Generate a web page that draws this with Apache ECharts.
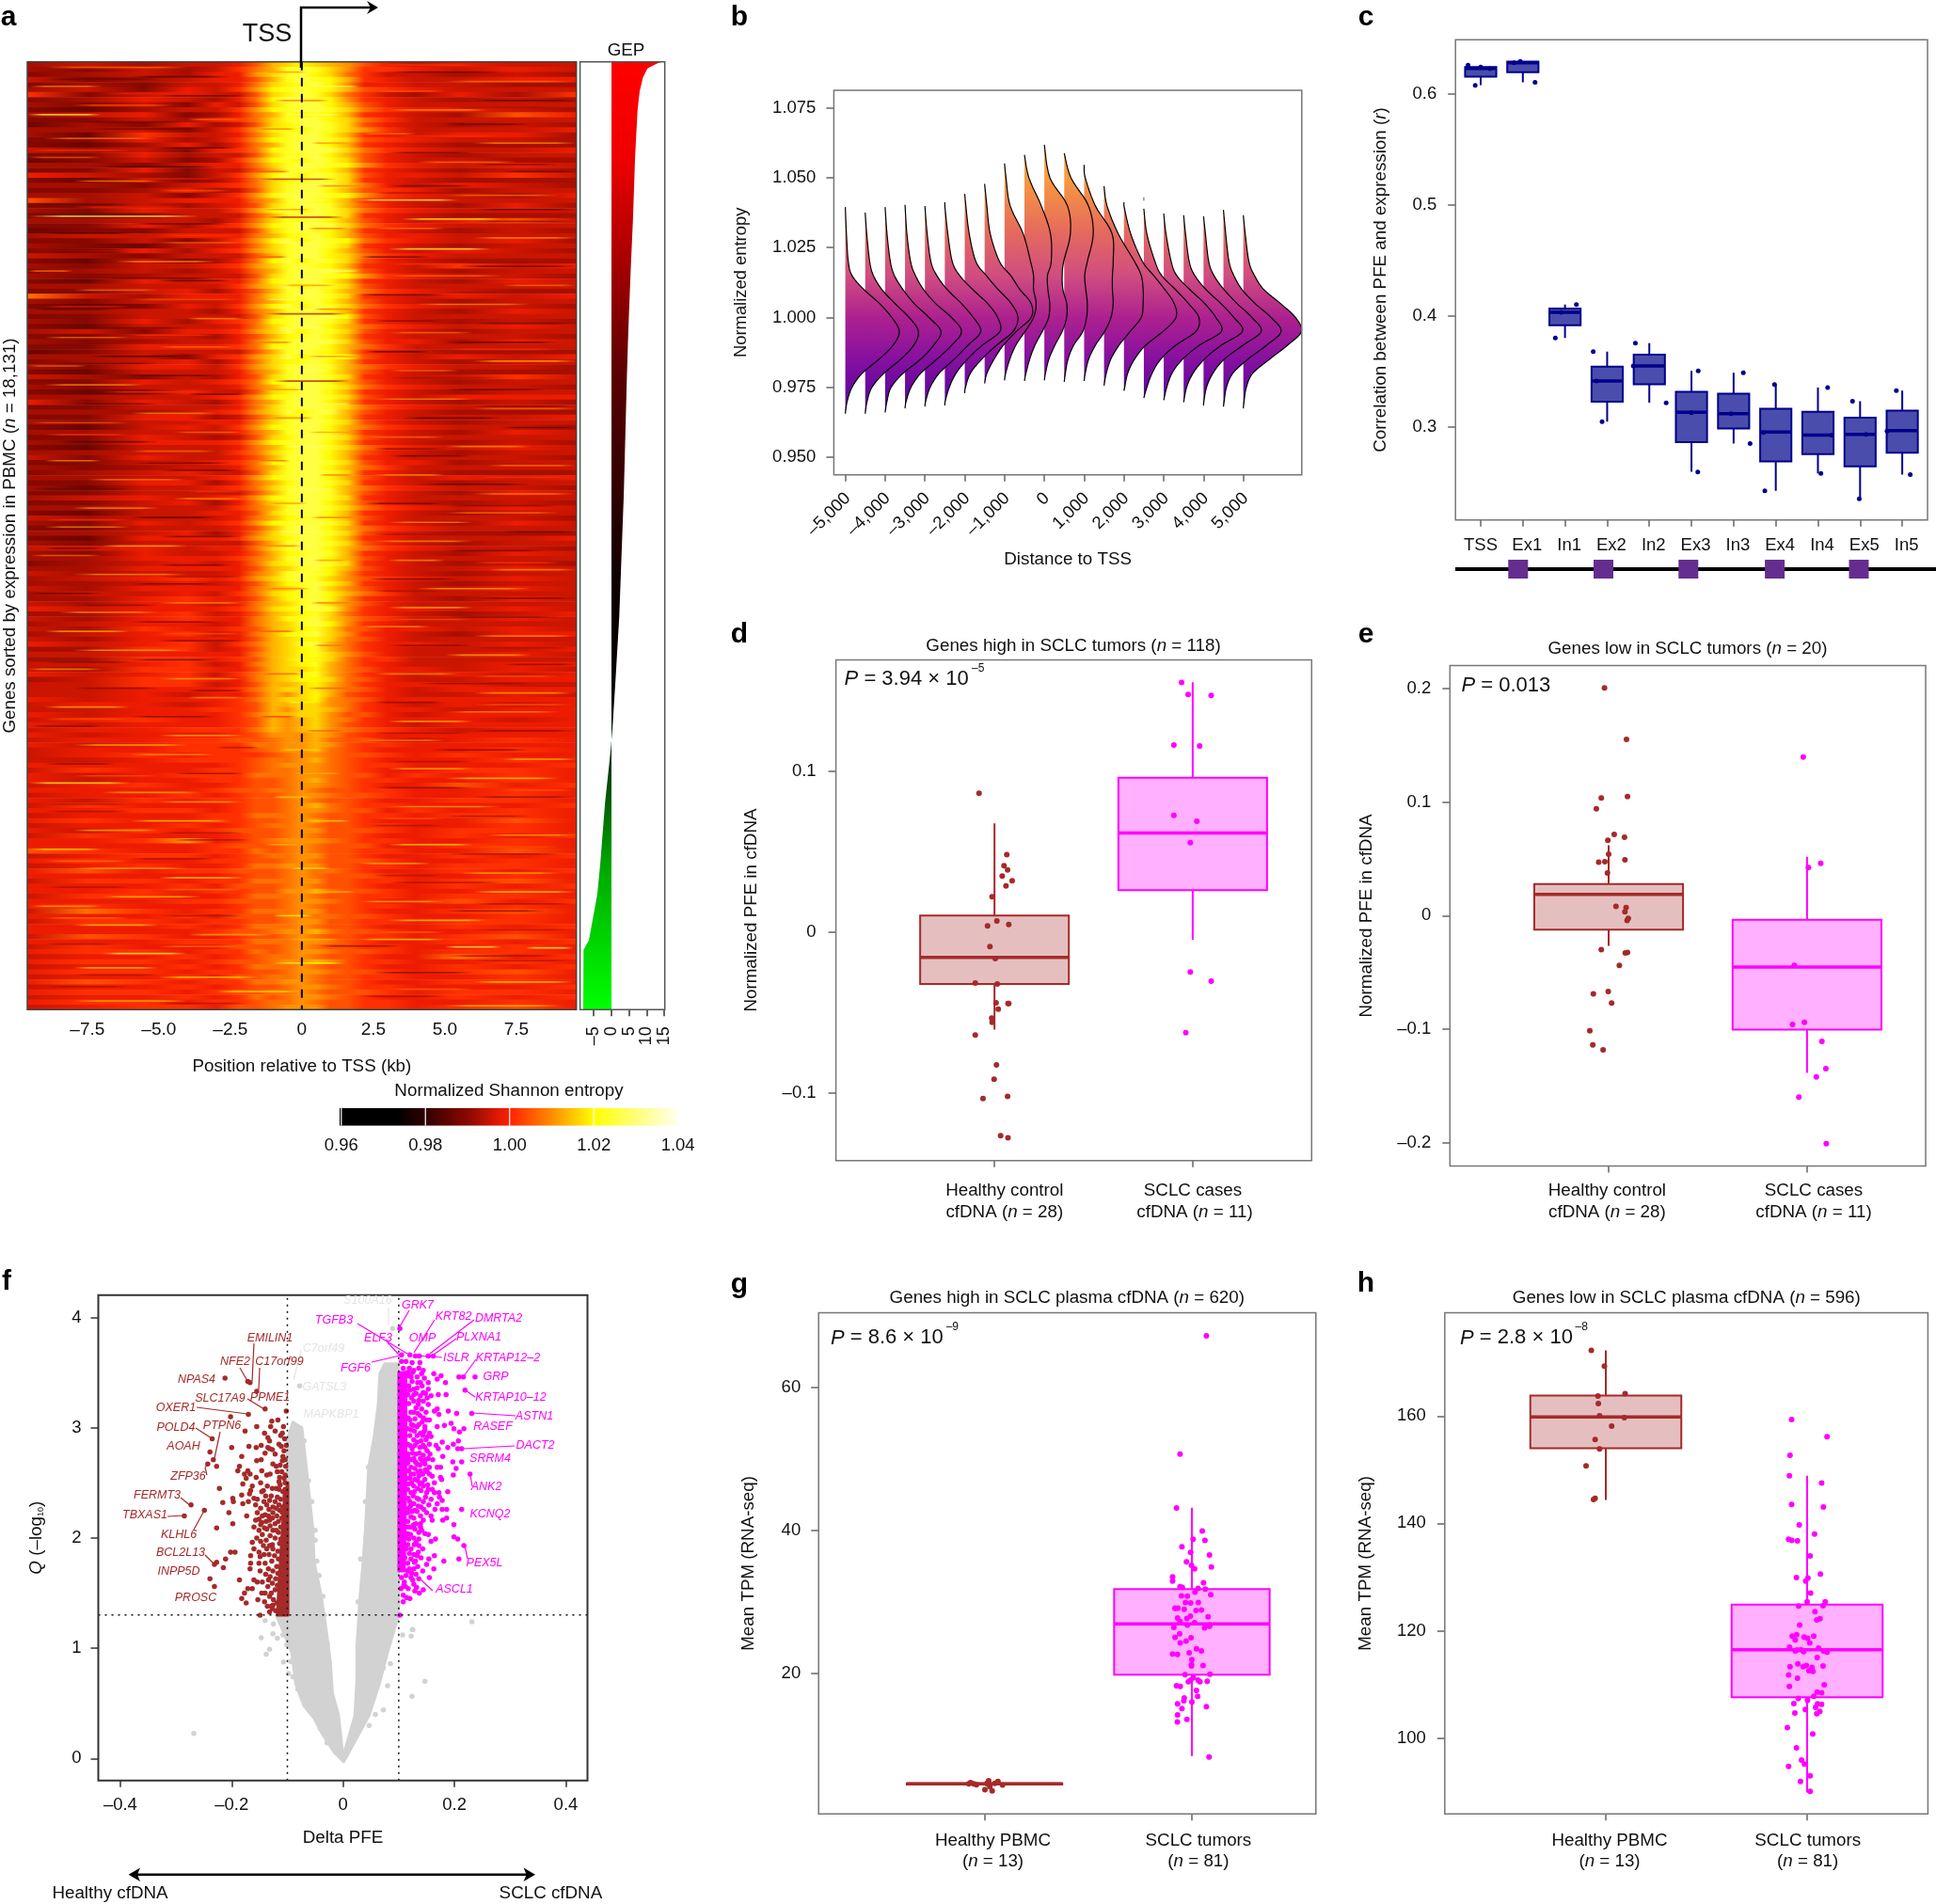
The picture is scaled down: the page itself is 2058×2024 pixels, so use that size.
<!DOCTYPE html>
<html>
<head>
<meta charset="utf-8">
<title>PFE figure</title>
<script src="https://cdn.jsdelivr.net/npm/echarts@6/dist/echarts.min.js"></script>
<style>
  html, body { margin: 0; padding: 0; background: #fff; }
  #main { width: 2058px; height: 2024px; }
</style>
</head>
<body>
<div id="main"></div>
<script>
// --- panel a: heat map, estimated by eye, one string per band of rows, one hex digit per column
const heatColumns = [-9.6, -7.5, -5.5, -4, -3, -2.2, -1.6, -1, -0.5, 0, 0.5, 1, 1.6, 2.2, 3, 4, 5.5, 7.5, 9.6];
const heatRows = [
  '3434457abcba9754544','3243468adedb9665454','2343559bdecb8644343','4234557adedca654455',
  '2324458bcdec9554433','3425469cdedca765444','6245447bcedb8643536','2354358ceedc9654343',
  '3242547bdeeca754444','2134469cdeedb865543','3452358adcdca654375','2243568bdeecb864444',
  '1325347bceedb754343','3342469cdcedb964445','3164458bdeeca654553','2253469cdeedb765443',
  '2135358adeeca654333','4342568cdeeeb865445','2253447bddeca754344','1242369cdcedb754433',
  '3324558bdeedc965454','2252447adedca654343','5432469cecedb755464','2142358bcdedb654333',
  '3324568bdeeeb854543','2235347bdeeca765344','3342469ceeedc965435','7345558adedca654444',
  '2243457bdeeda754353','3254469cecedb865444','2124447adeedb654333','3344358bddeca754574',
  '2253569cdeeeb865444','1224447bdedca654343','3445558acdeca755444','2242469cecedc865453',
  '3214458bdeedb654344','2353569bdeeca754543','4324447adeecb865444','2142358cecedb754333',
  '3244569bdedca654645','2343458adeeeb754344','3234447bdeedc965443','2154558cdeeca654354',
  '3344469becedb754444','2245357adeeca865433','8435558bdeedb654545','3244458acdeca754344',
  '2125469cecedb865443','3344358adeeca654354','2244447bdeeec754444','3253568cdeedb654343',
  '2144458bdeeca865454','3425569becedb754344','2244357acdeca654443','3234458bdeeeb755354',
  '2255568cdeeca864444','1244447adedca654333','3342569becedc754545','2345358bcdeca654344',
  '3255469bdeeda865443','2144458adeeca754333','4324357bdeedb654464','2254568cdeeca754344',
  '3244458adeedb865443','2125447bceeca654344','3344569cdeedb754555','5254358adeeca654343',
  '2244458bdeedb865444','3334569beceea754333','2255347acdeca654445','3244558bdeedb754344',
  '2145469cdeeca865443','3344458adeeda654354','2254347bceedb754444','3255569cdeeca654343',
  '2144458aceedb865454','3344468bdeeca754344','4254457adeeca654443','2244568cdeedb755344',
  '3234458adeeca864444','2345447bdeedb654333','3344569cdeeca754545','2255358aceedb654344',
  '3144568bdeeca865443','2244447adeeda754354','3454569cdeedb654444','2245358bceeca754343',
  '3344468adeedb865454','2144557bdeeca654344','4344458acdeca754443','3254569cdeedb654354',
  '2244457adeeca865444','3345358bdeedb754333','2155569bceeca654445','3244447adeedb754344',
  '4454558bdeeca865443','3254457acdeda654354','3355568adeeca754444','2345458bceedb654343',
  '3355557abdeca754454','4344458adedc9654344','3456569bdedb9765454','3345457acdeca654344',
  '4355558abdeb9754454','3445468bcdeca864444','3356557acdec9654354','4355458abdeb9754444',
  '5455568bcded9655454','3356457abcdb8654345','4356558acdeb9764454','3455458abdec9654444',
  '4365567abcdb8755454','3456458acdeb9654355','4355557abccb8754444','5456468abdea8655454',
  '3366457abcda8654445','4455558abcdb9754454','3366567abccb8664444','4456458abcda8654455',
  '4366557abbca8755454','5456468abcda8654545','3466558abccb8754455','4466457aabca8655544',
  '4455568abbca8754555','4454557a9bca7654454','5455568abbc98755555','4554567aabb98654545',
  '4455667a9bba8655455','5455568aabb97754555','4565567a9ab98655545','5455567a9ab97654555',
  '4556668a9ab98765455','5455567999a97655555','4556677899a87754565','5456668899a97665555',
  '4556667899a87655565','4565666789987765655','4456667889a87655565','5555567899987665556',
  '4655667889987655665','5456668889987756565','5455667789a87665565','4565567789987655756',
  '5555677889877665565','4556567789987765565','5465667789877655665','4655567789a87665556',
  '5566567789987756565','4555668889877665665','5655667789977655575','4556567889877665565',
  '5465677789977765665','4655567789877655656','5569567899987665565','5555677789877755665',
  '7655668789877665575','4566567889977655656','5655667789877765565','4565568899977665665',
  '5756677789887655656','5555567789877765565','4665668889977665675','5556577789877655656',
  '5565667799a87765565','4665568889877665665','5556677789987655756','5655567789877665565',
  '4865668889977655675','5556577789887765565','4665667789977665665','5556568889877655656',
  '5555677899a87765565','4765567789877665675','5556668889987655656','4655577789877665565',
  '5665668789987765665','4556567889877655856','5665677899a97665565','4556568889877655656',
  '5665667789987765675','4556577889877665565','5765668899877655665','4556567789987665556',
  '5665677889877765665','4556568789987655656','5665667889877665565','4566577899977665675'
];
// thin streaks over the rows: row (out of 200), from kb, to kb, level
const heatStreaks = [
  [1,-9,-4,8],[2,3,7,1],[3,-6,-2.5,0],[4,5,9.5,8],[5,-9.5,-7,9],[6,2.5,5,7],[7,-5,-2,1],[8,6,9.6,0],[9,-8,-4.5,7],[10,3,6.5,9],
  [11,-9.6,-7,14],[12,-4,-2,8],[13,5,8,1],[14,-7.5,-3.5,1],[15,2,4,8],[16,-9,-5,8],[17,6,9.6,9],[18,-5,-2.2,0],[19,3,6,1],[20,-9.6,-7,7],
  [21,4,7.5,8],[22,-7,-3,0],[23,7,9.6,1],[24.6,-1.5,1.2,3],[25,-8,-5,9],[26,3,6,1],[27,-5,-2.5,7],[28,5,9,8],[29,1.8,5.5,14],[30,-9.5,-6,1],
  [31,6,9.6,0],[32.4,-9.6,-3.6,14],[32.6,-1.2,1.5,3],[33,3.5,7,12],[34,-6,-2.5,1],[35,2.5,5,8],[36,-9,-6,0],[37,6,9.6,9],[38,-5,-2,8],[39.3,3,6.6,14],
  [40,-9,-6,1],[41,2,4.5,1],[42,-6.5,-3,9],[43,5.5,9.6,1],[44,-9.6,-8,8],[45,3,7,8],[46,-5,-2.5,0],[47,7,9.6,8],[48,-8,-5,8],[49,2,5,1],
  [50,-6,-2,7],[51,4,8,9],[52,-9.5,-6.5,0],[53,-1.3,1.6,3],[54,-4,-2,9],[55,6,9.5,1],[56,-8,-4,1],[57,3,6,8],[58,-9,-6,8],[59,5,9,0],
  [60,-5,-2.3,8],[61,2.2,4.5,0],[62,-7.5,-4,0],[63,6,9.6,10],[64,-9.6,-7.5,8],[65,3,5.5,8],[66,-6,-3,1],[67.2,-1,1.7,3],[68,-9,-5.5,9],[69,5,8.5,1],
  [70,-4,-2,1],[71,2.5,6,9],[72,-8,-5,1],[73,6,9.6,8],[74,-6,-3,9],[75,3.5,7,0],[76,-9.6,-6,7],[77,7,9.6,0],[78,-4.5,-2,8],[79,2,5,8],
  [80,-8.5,-5,0],[81,5,8,9],[82,-6,-3,8],[83,3,6,1],[84,-9,-7,9],[85,6.5,9.6,8],[86,-5,-2.2,1],[87,2.5,5,9],[88,-7.5,-4,8],[89,4,8,1],
  [90,-9.6,-6,1],[91,6,9.5,9],[92,-4.5,-2,9],[93,2.2,5,1],[94,-8,-5,9],[95,5,9,8],[96,-6,-3,0],[97,3,6,9],[98,-9,-6,9],[99,7,9.6,1],
  [100,-5,-2,1],[101,2.5,6,9],[102,-7,-4,10],[103,5,8.5,1],[104,-9.5,-7,8],[105,3,5,9],[106,-5,-2.5,1],[107,6.5,9.6,9],[108,-8,-4,9],[109,2.3,5.5,1],
  [110,-6,-3,1],[111,4,8,10],[112,-9.6,-7,1],[113,6,9.6,1],[114,-5,-2,9],[115,3,6,10],[116,-8.5,-5,9],[117,5,9,1],[118,-6,-3,2],[119,2,4.5,9],
  [120,-9,-6,10],[121,6,9.5,9],[122,-5,-2,2],[123,3,6,2],[124,-8,-4,10],[125,5,8,10],[126,-6,-3,1],[127,7,9.6,2],[128,-9.6,-7,9],[129,2.5,5.5,9],
  [130,-5,-2,10],[131,4,8,2],[132,-8,-5,2],[133,6,9.5,10],[134,-4,-2,9],[135,2.5,5,2],[136,-9,-6,10],[137,5,9,9],[138,-6,-3,2],[139,3,6,10],
  [140,-9.5,-7,2],[141,6,9.6,2],[142,-5,-2,10],[143,2,5,9],[144,-8,-4,11],[145,4.5,8,2],[146,-6,-3,9],[147,7,9.6,10],[148,-9,-6.5,2],[149,3,6,10],
  [150,-4.5,-2,2],[151,5,9,11],[152,-9.6,-6,13],[153,2.5,6,2],[154,-7,-3.5,10],[155,6,9.5,2],[156,-5,-2,10],[157,3,7,10],[158,-9,-6,3],[159,5,8,3],
  [160,-6,-2.5,11],[161,2.3,5,3],[162,-8,-5,10],[163,6.5,9.6,10],[164,-4.5,-1.8,3],[165,3,6,11],[166,-9.5,-7,11],[167,5,9,3],[168,-6,-3,3],[169,2,4.5,10],
  [170,-8,-4,10],[171,5.5,9,10],[172,-5,-2,11],[173,3,7,3],[174,-9,-6,3],[175,6,9.6,11],[176,-7,-3.5,11],[177,2,5,10],[178,-9.5,-7,10],[179,5,8.5,2],
  [180,-5,-2,3],[181,3,6.5,11],[182,-8,-5,11],[183,6,9.5,3],[184,-4,-1,10],[185,2,5,11],[186,-9,-6.5,3],[186.4,0.6,3.5,2],[186.6,5,7,14],[186.8,7.8,9.5,14],
  [188,-7,-4,14],[188.5,5,9,3],[190,-1,1.5,12],[191,-8,-5,11],[192,2.5,6,2],[193,-5,-1.5,11],[194,6,9.5,11],[195,-9,-6,3],[196,-3,0,12],[197,2,5,3],
  [198,-8,-4,10],[199,5,9,10],
  // across the glow
  [2,-1.4,0.2,9],[5,0.4,2,15],[8,-1,1,8],[11,-0.6,1.4,15],[14,-1.6,-0.2,8],[17,0.3,1.8,9],[20,-0.8,0.8,15],[23,-1.8,-0.4,7],[26,0.5,2.2,8],[29,-0.4,1,15],
  [31,-1.4,0.3,9],[35,0.2,1.6,8],[38,-1,0.6,15],[41,-1.7,-0.5,7],[44,0.6,2,15],[47,-0.7,1.2,9],[50,-1.3,0,15],[52,0.4,1.9,8],[56,-0.9,0.9,15],[59,-1.6,-0.3,8],
  [62,0.2,2,9],[65,-0.5,1.1,15],[69,-1.5,0.1,9],[72,0.5,1.7,15],[75,-1.1,0.4,8],[78,0.2,2.1,9],[81,-0.7,0.9,15],[84,-1.6,-0.4,7],[87,0.6,1.8,8],[90,-0.4,1.2,15],
  [93,-1.2,0.2,9],[96,0.3,2,8],[99,-0.9,0.7,15],[102,-1.5,0,8],[105,0.4,1.6,9],[108,-0.6,1,14],[111,-1.3,0.3,8],[114,0.3,1.8,8],[117,-0.8,1,13],[120,-1.6,-0.2,7],
  [123,0.4,1.6,8],[126,-0.6,0.9,13],[129,-1.4,0,7],[132,0.2,1.7,7],[135,-0.6,0.7,12],[138,-1.5,-0.2,6],[141,0.1,1.5,7],[145,-0.8,0.8,11],[150,-0.3,1.4,10],[155,-1,0.3,11],
  [160,0.1,1.7,11],[165,-1.3,0,10],[170,-0.4,1,12],[175,0.3,1.9,10],[180,-1,0.4,12],[185,-0.5,1.3,10],
  // softer lines in between
  [0.5,2.5,6,6],[3.5,-9,-5,1],[6.5,-7,-3,5],[9.5,5,9,3],[12.5,-8,-4,1],[15.5,3,7,6],[18.5,-9.5,-6,6],[21.5,6,9,2],[24.5,-6,-2.5,5],[27.5,2.5,6,3],
  [30.5,-8,-4,5],[33.5,6,9.5,2],[36.5,-5,-2,6],[39.5,-9,-6,1],[42.5,3,6,6],[45.5,-7,-3,1],[48.5,5,9,3],[51.5,-9,-6,5],[54.5,2.5,5,2],[57.5,-6,-3,6],
  [60.5,5,9,6],[63.5,-9,-5,1],[66.5,3,7,3],[69.5,-7,-3,6],[72.5,6,9.5,2],[75.5,-5,-2,5],[78.5,-9,-6,6],[81.5,2.5,5,2],[84.5,-6,-2.5,1],[87.5,6,9.5,6],
  [90.5,-4,-2,6],[93.5,5,9,2],[96.5,-9,-6,6],[99.5,2.5,6,3],[102.5,-9,-7,1],[105.5,6,9,6],[108.5,-5,-2,3],[111.5,2.5,5,3],[114.5,-8,-5,2],[117.5,3,6,7],
  [120.5,-5,-2,7],[123.5,6,9.5,3],[126.5,-9,-6,2],[129.5,6,9,7],[132.5,-4,-2,2],[135.5,6,9.5,7],[138.5,-9,-6,7],[141.5,2.5,6,3],[144.5,-3,-1.5,3],[147.5,3,6,3],
  [150.5,-8,-5,7],[153.5,7,9.5,7],[156.5,-9,-6,3],[159.5,2.5,5,7],[162.5,-5,-2,3],[165.5,6,9,7],[168.5,-9,-6,8],[171.5,2.5,5,3],[174.5,-5,-2,8],[177.5,6,9.5,3],
  [180.5,-9,-6,8],[183.5,2.5,5,8],[186.5,-5,-2,8],[189.5,6,9.5,3],[192.5,-8,-5,3],[195.5,3,6,8],[198.5,-5,-2,3]
];
const heatStreakRowBase = 200;
// --- panel a: colour scale
const entropyStops = [0.96, 0.973, 0.98, 0.99, 1.0, 1.01, 1.02, 1.04];
const entropyColors = ['#000000', '#000000', '#300000', '#8a0800', '#ff2000', '#ff8c00', '#ffff00', '#fffff0'];
const entropyTicks = [0.96, 0.98, 1.0, 1.02, 1.04];
// --- panel a: expression bar
const gepRank = [0, 0.002, 0.007, 0.017, 0.031, 0.051, 0.1, 0.166, 0.216, 0.282, 0.329, 0.456, 0.586, 0.649, 0.703, 0.729, 0.781, 0.847, 0.878, 0.927, 0.932, 0.937, 1];
const gepValue = [14.1, 12.8, 10.2, 8.9, 8, 7.4, 6.7, 6.1, 5.5, 4.8, 4.4, 3.5, 2.2, 1.2, 0.3, -0.3, -1.8, -3.2, -4, -6.4, -7.2, -7.9, -8];
const gepTicks = [-5, 0, 5, 10, 15];

// --- panel b: half violins
const violinX = [-5000, -4500, -4000, -3500, -3000, -2500, -2000, -1500, -1000, -500, 0, 500, 1000, 1500, 2000, 2500, 3000, 3500, 4000, 4500, 5000];
const violinTop = [1.0395, 1.0375, 1.0395, 1.0403, 1.0399, 1.0412, 1.0442, 1.0478, 1.0551, 1.0582, 1.0618, 1.0588, 1.0546, 1.047, 1.0412, 1.0389, 1.0372, 1.0366, 1.0362, 1.0385, 1.0366];
const violinBottom = [0.9656, 0.9656, 0.966, 0.9675, 0.9681, 0.9685, 0.9729, 0.9764, 0.9775, 0.9773, 0.9775, 0.977, 0.9773, 0.9756, 0.9738, 0.9712, 0.9704, 0.9697, 0.9685, 0.9681, 0.9675];
const violinLevels = [1.05, 1.04, 1.03, 1.02, 1.015, 1.01, 1.005, 1.0, 0.995, 0.99, 0.985, 0.98, 0.975, 0.97];
const violinWidths = [
  [0, 0, 3, 8, 18, 50, 92, 125, 145, 128, 90, 45, 18, 5],
  [0, 0, 4, 12, 22, 45, 80, 118, 143, 130, 95, 50, 18, 5],
  [0, 0, 5, 14, 25, 48, 78, 118, 150, 130, 95, 48, 16, 5],
  [0, 0, 5, 15, 28, 50, 82, 125, 152, 125, 85, 42, 16, 3],
  [0, 0, 6, 16, 32, 60, 98, 130, 150, 115, 78, 38, 14, 2],
  [0, 0, 8, 20, 40, 75, 115, 142, 148, 100, 60, 30, 12, 1],
  [0, 3, 12, 30, 58, 90, 125, 143, 130, 85, 45, 15, 2, 0],
  [0, 6, 15, 40, 70, 95, 125, 125, 85, 50, 25, 6, 0, 0],
  [4, 15, 50, 70, 78, 78, 85, 78, 55, 30, 14, 3, 0, 0],
  [12, 45, 70, 72, 62, 63, 68, 65, 48, 28, 14, 4, 0, 0],
  [15, 62, 70, 52, 48, 50, 60, 60, 48, 28, 12, 3, 0, 0],
  [18, 65, 78, 62, 55, 58, 62, 60, 50, 25, 10, 3, 0, 0],
  [3, 30, 75, 78, 76, 76, 78, 72, 55, 30, 12, 3, 0, 0],
  [0, 8, 38, 82, 100, 105, 105, 100, 70, 40, 18, 6, 0, 0],
  [0, 0, 18, 50, 80, 110, 135, 140, 105, 58, 28, 10, 2, 0],
  [0, 0, 8, 30, 48, 85, 120, 148, 140, 85, 45, 22, 8, 0],
  [0, 0, 6, 20, 35, 70, 110, 140, 155, 95, 50, 22, 8, 0],
  [0, 0, 5, 15, 30, 60, 100, 135, 158, 100, 55, 25, 8, 1],
  [0, 0, 5, 14, 28, 55, 90, 130, 155, 105, 55, 25, 8, 1],
  [0, 0, 6, 15, 28, 50, 85, 128, 155, 115, 65, 25, 8, 2],
  [0, 0, 5, 15, 30, 55, 100, 140, 156, 118, 70, 25, 8, 2]
];
const violinWidthUnit = 9.35;
const violinStub = [[2500, 1.0418], [2500, 1.043]];
const violinTicks = [-5000, -4000, -3000, -2000, -1000, 0, 1000, 2000, 3000, 4000, 5000];
const violinYTicks = [0.95, 0.975, 1.0, 1.025, 1.05, 1.075];
const violinFillValues = [1.065, 1.05, 1.03, 1.015, 1.0, 0.985, 0.965];
const violinFillColors = ['#fdb42f', '#f99a3e', '#e4695e', '#d04d80', '#ad218f', '#8610a0', '#4c02a1'];

// --- panel c
const regionNames = ['TSS', 'Ex1', 'In1', 'Ex2', 'In2', 'Ex3', 'In3', 'Ex4', 'In4', 'Ex5', 'In5'];
const regionLow = [0.6081, 0.6107, 0.3804, 0.3049, 0.3221, 0.2598, 0.2851, 0.2426, 0.2582, 0.2355, 0.2572];
const regionQ1 = [0.6156, 0.6198, 0.3918, 0.323, 0.3386, 0.2864, 0.2987, 0.2692, 0.2757, 0.2646, 0.277];
const regionMedian = [0.6231, 0.6283, 0.4035, 0.3415, 0.3551, 0.3133, 0.312, 0.2955, 0.2929, 0.2935, 0.2968];
const regionQ3 = [0.6244, 0.6292, 0.4067, 0.3545, 0.3652, 0.3318, 0.3302, 0.3165, 0.3139, 0.3084, 0.3149];
const regionHigh = [0.6244, 0.6292, 0.4103, 0.3681, 0.3756, 0.3506, 0.349, 0.3383, 0.3357, 0.3234, 0.3328];
const regionPoints = [
  [0.7, 0.626], [1, 0.6244], [1.22, 0.6228], [0.87, 0.6078], [1.79, 0.6283], [1.94, 0.6295], [2.29, 0.6107],
  [3.27, 0.4103], [2.91, 0.4035], [2.77, 0.3804], [3.67, 0.3681], [3.75, 0.3415], [3.88, 0.3049],
  [4.67, 0.3756], [4.62, 0.3551], [5.4, 0.3218], [6.16, 0.3506], [6, 0.313], [6.15, 0.2595],
  [7.23, 0.349], [6.94, 0.312], [7.39, 0.2851], [7.97, 0.3383], [7.71, 0.2952], [7.74, 0.2426],
  [9.23, 0.3357], [9.33, 0.2926], [9.07, 0.2582], [9.82, 0.3234], [10.14, 0.2935], [9.98, 0.2355],
  [10.86, 0.3328], [10.64, 0.2965], [11.19, 0.2572]
];

// --- panel d  (box = low, q1, median, q3, high; points = jitter, value)
const dHealthyBox = [-0.0604, -0.032, -0.0155, 0.0105, 0.0678];
const dCasesBox = [-0.0045, 0.0263, 0.0618, 0.0962, 0.1556];
const dHealthyPoints = [
  [-0.078, 0.0866], [0.062, 0.0484], [0.048, 0.0415], [0.066, 0.0389], [0.039, 0.0351], [0.089, 0.0322], [0.058, 0.0289],
  [-0.012, 0.0222], [0.012, 0.0072], [-0.035, 0.0041], [0.072, 0.005], [-0.023, -0.0088], [0.004, -0.0162], [-0.097, -0.0315],
  [0.014, -0.032], [0.008, -0.0437], [0.072, -0.0442], [0.019, -0.0477], [-0.014, -0.0532], [-0.012, -0.0558], [-0.097, -0.0637],
  [0.01, -0.0823], [-0.002, -0.0912], [-0.058, -0.1033], [0.066, -0.1019], [0.031, -0.1263], [0.068, -0.1277], [0.068, -0.0442]
];
const dCasesPoints = [
  [-0.056, 0.1554], [-0.023, 0.148], [0.093, 0.1473], [-0.095, 0.1165], [0.035, 0.116], [-0.095, 0.0728],
  [0.021, 0.0692], [-0.012, 0.0558], [-0.012, -0.0246], [0.093, -0.0303], [-0.035, -0.0623]
];

// --- panel e
const eHealthyBox = [-0.0267, -0.0125, 0.0186, 0.0277, 0.0618];
const eCasesBox = [-0.1385, -0.1003, -0.0453, -0.0037, 0.0517];
const eHealthyPoints = [
  [-0.021, 0.2003], [0.09, 0.1551], [-0.037, 0.1034], [0.095, 0.1047], [-0.062, 0.0939], [0.028, 0.0713], [0.08, 0.0689],
  [-0.004, 0.0662], [0, 0.0541], [-0.05, 0.047], [-0.019, 0.0473], [0.082, 0.049], [-0.006, 0.0375], [0.037, 0.0081],
  [0.088, 0.0071], [0.082, 0.0034], [0.099, -0.0024], [0.093, -0.0044], [-0.037, -0.0301], [0.084, -0.0328], [0.095, -0.0324],
  [0.054, -0.0439], [-0.002, -0.0669], [-0.077, -0.0689], [0.015, -0.077], [-0.095, -0.1014], [-0.08, -0.1139], [-0.028, -0.1182]
];
const eCasesPoints = [
  [-0.019, 0.1395], [0.069, 0.0459], [0.007, 0.0422], [-0.064, -0.0439], [-0.073, -0.0959], [-0.013, -0.0939],
  [0.075, -0.1108], [0.095, -0.1348], [0.047, -0.1419], [-0.041, -0.1598], [0.097, -0.2007]
];

// --- panel g
const gHealthyBox = [4.4, 4.45, 4.54, 4.62, 4.7];
const gTumorBox = [8.42, 19.83, 26.93, 31.8, 43.2];
const gHealthyPoints = [
  [-0.067, 4.71], [-0.052, 4.54], [-0.039, 4.43], [0.02, 4.99], [0.013, 4.54], [0.026, 4.16], [0.002, 3.71],
  [0.037, 3.55], [0.065, 4.88], [0.05, 4.6], [0.087, 4.38], [0.013, 4.65], [-0.076, 4.54]
];
const gTumorPoints = [
  [0.07, 67.26], [-0.057, 50.69], [-0.074, 43.16], [0.05, 39.94], [0.006, 38.78], [0.063, 38.61], [-0.048, 37.73], [-0.006, 36.95],
  [0.085, 36.57], [-0.026, 35.62], [-0.002, 35.12], [0.094, 34.9], [0.013, 34.63], [-0.093, 33.52], [-0.093, 32.91], [0.056, 32.69],
  [-0.057, 32.13], [-0.046, 32.02], [0.03, 31.91], [0.065, 31.8], [0.015, 31.36], [0.091, 31.02], [-0.05, 30.86], [-0.022, 30.8],
  [0.031, 29.92], [-0.031, 29.92], [-0.006, 29.86], [-0.081, 29.14], [-0.067, 29.14], [-0.037, 28.98], [0.02, 28.81], [0.046, 28.86],
  [0.078, 27.92], [-0.069, 27.76], [-0.007, 28.03], [-0.024, 27.7], [-0.057, 27.26], [0.013, 27.09], [-0.087, 26.43], [-0.022, 26.76],
  [0.061, 26.37], [0.085, 26.59], [-0.059, 25.54], [-0.081, 25.04], [-0.004, 24.99], [-0.028, 24.54], [-0.056, 24.27], [0.022, 23.43],
  [0.046, 23.16], [-0.093, 22.71], [-0.069, 22.66], [-0.013, 22.88], [0, 21.94], [-0.002, 21.22], [0.054, 21.11], [-0.033, 19.83],
  [0.087, 19.89], [0.007, 19.39], [0.03, 19.06], [0.039, 18.84], [-0.017, 18.84], [0.074, 18.89], [-0.074, 18.28], [-0.056, 18.17],
  [0.022, 17.62], [-0.037, 16.57], [0.028, 16.79], [-0.039, 16.18], [-0.069, 15.73], [0, 16.01], [0.07, 15.35], [-0.048, 15.07],
  [-0.069, 14.18], [-0.024, 13.57], [-0.07, 13.19], [0.083, 8.31], [-0.002, 21.05], [-0.006, 19.06], [-0.08, 29.09], [0.087, 26.76]
];

// --- panel h
const hHealthyBox = [144.35, 154.02, 159.85, 163.84, 172.25];
const hTumorBox = [89.82, 107.6, 116.46, 124.87, 148.86];
const hHealthyPoints = [
  [-0.072, 172.25], [-0.007, 169.3], [0.096, 164.2], [-0.039, 163.76], [-0.037, 162.36], [-0.031, 160.07], [0.092, 159.7],
  [0.029, 158.15], [-0.053, 155.65], [-0.031, 153.87], [-0.098, 150.7], [-0.053, 144.65], [-0.061, 144.43]
];
const hTumorPoints = [
  [-0.077, 159.34], [0.099, 156.16], [-0.085, 152.69], [-0.088, 148.86], [0.072, 147.53], [-0.077, 143.54], [0.081, 143.03], [-0.039, 139.7],
  [0.037, 138], [-0.092, 137.05], [-0.076, 136.83], [-0.048, 136.75], [0.015, 133.95], [0.066, 130.55], [-0.053, 129.89], [0.004, 129.82],
  [-0.007, 129.23], [0.017, 127.01], [0, 125.39], [0.09, 125.39], [0.079, 124.65], [-0.042, 124.58], [0.039, 123.54], [0.064, 122.21],
  [0.048, 121.99], [-0.037, 121.03], [-0.052, 119.26], [-0.074, 118.97], [-0.015, 118.82], [0.033, 118.97], [0.002, 118.6], [-0.059, 118.3],
  [0.013, 117.71], [-0.087, 116.9], [0.057, 116.75], [-0.059, 116.24], [-0.031, 116.46], [-0.05, 116.38], [-0.017, 116.09], [0.081, 116.24],
  [0.099, 116.01], [0.05, 114.98], [-0.046, 113.8], [0.079, 113.43], [-0.085, 113.28], [-0.004, 113.51], [-0.02, 113.28], [0.024, 113.14],
  [0.009, 112.55], [0.029, 112.4], [-0.092, 111.73], [-0.048, 111.14], [-0.088, 109.59], [0.085, 109.89], [0.05, 108.56], [0.072, 108.41],
  [0.033, 107.75], [-0.044, 107.38], [0.002, 107.01], [-0.066, 106.42], [0.052, 106.35], [0.072, 106.27], [-0.009, 105.31], [0.042, 105.68],
  [0.063, 104.94], [0.048, 104.5], [-0.061, 104.65], [-0.098, 101.92], [0.028, 100.74], [-0.053, 98.15], [-0.028, 95.87], [-0.013, 95.13],
  [-0.092, 94.69], [0.015, 92.92], [-0.033, 91.88], [0.015, 90.04]
];

// --- panel f
const volcanoGrayLeft = [
  [0.001, -0.029], [-0.0154, 0.051], [-0.0373, 0.222], [-0.052, 0.364], [-0.0704, 0.478], [-0.085, 0.677], [-0.0923, 0.961], [-0.1106, 1.189],
  [-0.12, 1.3], [-0.1, 1.35], [-0.1, 2.9], [-0.09, 3.05], [-0.074, 3], [-0.066, 2.64], [-0.06, 2.355], [-0.054, 2.07], [-0.052, 1.786],
  [-0.04, 1.5], [-0.03, 1.16], [-0.0227, 0.876], [-0.019, 0.591], [-0.008, 0.394], [-0.002, 0.108]
];
const volcanoGrayRight = [
  [0.001, -0.029], [0.0037, 0.079], [0.0213, 0.392], [0.0249, 0.736], [0.0249, 1.018], [0.0285, 1.302], [0.03, 1.445], [0.036, 1.786], [0.04, 2.07],
  [0.043, 2.355], [0.046, 2.64], [0.056, 2.925], [0.063, 3.2], [0.066, 3.49], [0.075, 3.58], [0.1, 3.58], [0.1, 1.35],
  [0.0981, 1.274], [0.0799, 0.961], [0.0652, 0.677], [0.0468, 0.392], [0.0285, 0.222], [0.01, 0.05]
];
const volcanoGrayDots = [
  [-0.268, 0.227], [0.147, 0.7], [0.1238, 0.563], [0.2314, 1.24], [0.1253, 1.169], [0.1223, 1.11], [0.0725, 0.44], [0.0468, 0.298],
  [-0.132, 0.99], [-0.147, 1.095], [-0.138, 0.945], [-0.118, 1.09], [-0.107, 0.875], [-0.074, 0.59], [-0.075, 2.78], [-0.081, 2.75],
  [-0.0895, 2.98], [-0.075, 2.53], [-0.07, 2.64], [-0.056, 2.33], [-0.05, 2.07], [-0.06, 2.16], [-0.036, 1.47], [-0.047, 1.79],
  [0.071, 3.49], [0.077, 3.18], [0.0625, 3.09], [0.0456, 2.64], [0.04, 2.33], [0.0315, 1.81], [0.027, 1.42], [0.1244, 1.17],
  [-0.14, 1.25], [-0.125, 1.22], [-0.115, 1.28], [0.089, 3.9], [-0.078, 3.38], [-0.098, 0.77], [0.085, 0.86], [0.107, 1.12],
  [-0.052, 0.42], [-0.061, 0.46], [-0.068, 0.55], [-0.081, 0.63], [-0.09, 0.74], [-0.094, 0.88], [-0.101, 1.03], [-0.108, 1.12], [-0.126, 1.13], [-0.112, 1.24],
  [-0.041, 0.27], [-0.029, 0.14], [-0.062, 2.52], [-0.07, 2.88], [-0.05, 1.98], [-0.043, 1.66], [-0.034, 1.3], [-0.028, 1.04],
  [0.017, 0.2], [0.031, 0.31], [0.042, 0.46], [0.053, 0.57], [0.06, 0.72], [0.072, 0.82], [0.084, 1.07], [0.091, 1.2], [0.058, 0.4], [0.08, 0.66]
];
const deltaCut = 0.1;
const qCut = 1.302;
const brownDense = [[-0.099, 1.3], [-0.118, 1.3], [-0.115, 1.6], [-0.11, 2], [-0.105, 2.4], [-0.099, 2.5]];
const brownPoints = [
  [-0.212, 3.45], [-0.171, 3.42], [-0.167, 3.41], [-0.155, 3.33], [-0.14, 3.17], [-0.17, 3.12], [-0.102, 3.15], [-0.202, 3.1], [-0.235, 2.9], [-0.239, 2.78],
  [-0.233, 2.71], [-0.243, 2.67], [-0.227, 2.65], [-0.128, 3.06], [-0.117, 3.07], [-0.13, 3.01], [-0.155, 3.01], [-0.107, 3.01], [-0.176, 2.97], [-0.141, 2.95],
  [-0.109, 2.95], [-0.112, 2.93], [-0.135, 2.91], [-0.132, 2.88], [-0.147, 2.84], [-0.169, 2.83], [-0.156, 2.82], [-0.2, 2.82], [-0.115, 2.85], [-0.102, 2.84],
  [-0.135, 2.82], [-0.14, 2.77], [-0.132, 2.81], [-0.182, 2.74], [-0.108, 2.74], [-0.147, 2.71], [-0.155, 2.7], [-0.109, 2.7], [-0.104, 2.71], [-0.186, 2.65],
  [-0.126, 2.67], [-0.12, 2.65], [-0.189, 2.61], [-0.171, 2.61], [-0.177, 2.58], [-0.167, 2.58], [-0.146, 2.61], [-0.137, 2.57], [-0.131, 2.58], [-0.174, 2.54],
  [-0.114, 2.55], [-0.106, 2.54], [-0.115, 2.51], [-0.104, 2.5], [-0.18, 2.49], [-0.163, 2.47], [-0.222, 2.45], [-0.166, 2.43], [-0.143, 2.43], [-0.12, 2.45],
  [-0.104, 2.44], [-0.198, 2.36], [-0.216, 2.32], [-0.197, 2.33], [-0.182, 2.39], [-0.168, 2.4], [-0.154, 2.35], [-0.139, 2.38], [-0.129, 2.38], [-0.118, 2.37],
  [-0.104, 2.38], [-0.18, 2.31], [-0.17, 2.33], [-0.157, 2.3], [-0.137, 2.3], [-0.126, 2.28], [-0.115, 2.3], [-0.273, 2.3], [-0.249, 2.25], [-0.285, 2.2],
  [-0.205, 2.23], [-0.173, 2.2], [-0.154, 2.23], [-0.14, 2.21], [-0.126, 2.23], [-0.109, 2.23], [-0.157, 2.16], [-0.146, 2.14], [-0.132, 2.16], [-0.198, 2.13],
  [-0.227, 2.09], [-0.16, 2.1], [-0.151, 2.07], [-0.137, 2.08], [-0.12, 2.07], [-0.163, 1.96], [-0.143, 1.93], [-0.132, 1.93], [-0.112, 1.99], [-0.104, 2.01],
  [-0.16, 1.9], [-0.151, 1.87], [-0.126, 1.9], [-0.202, 1.87], [-0.194, 1.87], [-0.211, 1.81], [-0.227, 1.78], [-0.231, 1.76], [-0.215, 1.73], [-0.166, 1.84],
  [-0.149, 1.83], [-0.166, 1.77], [-0.151, 1.77], [-0.14, 1.77], [-0.167, 1.72], [-0.149, 1.7], [-0.239, 1.63], [-0.186, 1.62], [-0.231, 1.56], [-0.16, 1.62],
  [-0.171, 1.54], [-0.163, 1.54], [-0.154, 1.6], [-0.177, 1.5], [-0.146, 1.5], [-0.14, 1.5], [-0.182, 1.45], [-0.153, 1.44], [-0.174, 1.41], [-0.132, 1.47],
  [-0.126, 1.39], [-0.149, 1.3], [-0.132, 1.33], [-0.115, 1.33],
  [-0.121, 1.34], [-0.127, 1.36], [-0.119, 1.41], [-0.125, 1.44], [-0.129, 1.5], [-0.122, 1.53], [-0.118, 1.57], [-0.127, 1.59], [-0.135, 1.56], [-0.121, 1.63],
  [-0.131, 1.65], [-0.117, 1.68], [-0.126, 1.7], [-0.134, 1.72], [-0.119, 1.74], [-0.128, 1.79], [-0.116, 1.81], [-0.123, 1.84], [-0.133, 1.85], [-0.117, 1.88],
  [-0.127, 1.94], [-0.114, 1.95], [-0.138, 1.98], [-0.122, 2], [-0.131, 2.02], [-0.145, 2.03], [-0.116, 2.05], [-0.126, 2.07], [-0.141, 2.09], [-0.112, 2.1],
  [-0.131, 2.11], [-0.122, 2.13], [-0.148, 2.12], [-0.116, 2.15], [-0.138, 2.15], [-0.127, 2.18], [-0.151, 2.17], [-0.11, 2.18], [-0.119, 2.2], [-0.134, 2.2],
  [-0.145, 2.2], [-0.114, 2.25], [-0.12, 2.27], [-0.133, 2.26], [-0.148, 2.27], [-0.108, 2.28], [-0.122, 2.33], [-0.132, 2.34], [-0.112, 2.35], [-0.142, 2.33],
  [-0.108, 2.42], [-0.115, 2.44], [-0.127, 2.45], [-0.136, 2.47], [-0.113, 2.48], [-0.104, 2.57], [-0.11, 2.6], [-0.118, 2.6], [-0.103, 2.65], [-0.113, 2.66],
  [-0.106, 2.79], [-0.122, 2.76], [-0.127, 2.8], [-0.111, 2.83], [-0.105, 2.9], [-0.122, 2.97], [-0.146, 2.42], [-0.16, 2.36], [-0.148, 2.5], [-0.156, 2.55],
  [-0.136, 1.38], [-0.141, 1.42], [-0.134, 1.62], [-0.139, 1.67], [-0.145, 1.6], [-0.129, 1.38], [-0.142, 1.85], [-0.137, 1.9], [-0.148, 1.97], [-0.155, 2]
];
const magentaDense = [[0.1, 1.7], [0.11, 1.7], [0.113, 2.6], [0.113, 3.5], [0.1, 3.5]];
const magentaPoints = [
  [0.102, 3.9], [0.105, 3.66], [0.12, 3.66], [0.13, 3.65], [0.137, 3.65], [0.153, 3.65], [0.162, 3.65], [0.163, 3.49], [0.176, 3.47], [0.169, 3.44],
  [0.184, 3.41], [0.208, 3.46], [0.216, 3.46], [0.237, 3.46], [0.219, 3.34], [0.185, 3.3], [0.171, 3.3], [0.153, 3.41], [0.189, 3.15], [0.204, 3.13],
  [0.231, 3.13], [0.194, 3.04], [0.199, 2.99], [0.209, 2.96], [0.217, 2.99], [0.182, 3.02], [0.169, 3.01], [0.207, 2.88], [0.198, 2.85], [0.206, 2.81],
  [0.213, 2.81], [0.178, 2.87], [0.171, 2.81], [0.188, 2.82], [0.179, 2.74], [0.197, 2.69], [0.213, 2.69], [0.203, 2.63], [0.198, 2.57], [0.228, 2.58],
  [0.175, 2.64], [0.169, 2.64], [0.188, 2.42], [0.172, 2.41], [0.178, 2.34], [0.213, 2.26], [0.186, 2.26], [0.178, 2.26], [0.165, 2.26], [0.16, 2.16],
  [0.186, 2.18], [0.179, 2.16], [0.199, 2.12], [0.199, 2.01], [0.206, 1.99], [0.217, 1.93], [0.166, 1.99], [0.158, 1.97], [0.164, 1.84], [0.154, 1.81],
  [0.181, 1.79], [0.208, 1.81], [0.15, 1.76], [0.163, 1.72], [0.155, 1.64], [0.136, 1.63], [0.144, 1.53], [0.137, 1.5], [0.108, 1.42], [0.12, 1.45],
  [0.104, 1.54], [0.102, 1.3], [0.133, 1.84], [0.122, 1.9], [0.136, 1.93], [0.147, 2.04], [0.153, 2.03], [0.139, 2.13], [0.144, 2.16], [0.158, 2.2],
  [0.164, 2.41], [0.169, 2.31], [0.173, 2.37], [0.153, 2.44], [0.144, 2.47], [0.164, 2.5], [0.147, 2.53], [0.155, 2.58], [0.175, 2.55], [0.177, 2.53],
  [0.153, 2.72], [0.161, 2.71], [0.139, 2.72], [0.133, 2.67], [0.147, 2.67], [0.155, 2.64], [0.127, 2.58], [0.139, 2.61], [0.167, 2.84], [0.155, 2.95],
  [0.158, 2.92], [0.169, 3.17], [0.172, 3.12], [0.164, 3.15], [0.153, 3.21], [0.144, 3.24], [0.158, 3.29], [0.144, 3.32], [0.136, 3.25], [0.127, 3.24],
  [0.127, 3.35], [0.139, 3.41], [0.133, 3.36], [0.153, 3.35], [0.144, 3.52], [0.136, 3.54], [0.127, 3.52], [0.119, 3.54], [0.108, 3.54], [0.11, 3.49],
  [0.122, 3.46], [0.133, 3.46], [0.141, 3.49], [0.144, 3.09], [0.133, 3.01], [0.139, 2.95], [0.147, 3.01], [0.155, 3.07], [0.133, 2.87], [0.144, 2.84],
  [0.122, 2.58], [0.127, 2.47], [0.136, 2.35], [0.144, 2.33], [0.133, 2.24], [0.15, 2.23], [0.127, 2.18], [0.139, 2.1], [0.122, 2.1], [0.116, 2.04],
  [0.127, 2], [0.136, 1.99], [0.113, 1.9], [0.122, 1.81], [0.13, 1.79], [0.119, 1.72], [0.127, 1.72], [0.113, 1.66], [0.122, 1.64], [0.11, 1.6], [0.105, 1.64],
  [0.116, 3.5], [0.124, 3.42], [0.118, 3.38], [0.131, 3.31], [0.116, 3.3], [0.123, 3.27], [0.139, 3.29], [0.118, 3.22], [0.131, 3.18], [0.141, 3.17],
  [0.122, 3.14], [0.117, 3.09], [0.129, 3.08], [0.138, 3.11], [0.149, 3.14], [0.123, 3.03], [0.116, 2.99], [0.128, 2.97], [0.143, 2.93], [0.12, 2.93],
  [0.149, 2.89], [0.127, 2.89], [0.116, 2.85], [0.138, 2.82], [0.124, 2.81], [0.151, 2.79], [0.117, 2.76], [0.131, 2.76], [0.144, 2.75], [0.123, 2.71],
  [0.116, 2.68], [0.148, 2.62], [0.129, 2.63], [0.118, 2.61], [0.136, 2.56], [0.16, 2.56], [0.116, 2.54], [0.142, 2.5], [0.123, 2.5], [0.134, 2.45],
  [0.116, 2.44], [0.15, 2.41], [0.126, 2.38], [0.117, 2.36], [0.158, 2.35], [0.135, 2.29], [0.121, 2.29], [0.116, 2.23], [0.124, 2.24], [0.145, 2.26],
  [0.116, 2.15], [0.131, 2.13], [0.121, 2.03], [0.112, 2.01], [0.141, 2.07], [0.128, 1.94], [0.116, 1.94], [0.143, 1.9], [0.111, 1.82], [0.127, 1.85],
  [0.14, 1.82], [0.116, 1.77], [0.134, 1.74], [0.108, 1.72], [0.112, 1.56], [0.117, 1.54], [0.108, 1.48], [0.127, 1.58], [0.131, 1.67], [0.143, 1.7],
  [0.105, 3.6], [0.113, 3.6], [0.124, 3.59], [0.138, 3.59], [0.146, 3.45], [0.151, 3.27], [0.147, 2.98], [0.142, 2.7], [0.127, 2.72], [0.134, 2.52],
  [0.118, 3.47], [0.125, 3.5], [0.134, 3.41], [0.142, 3.38], [0.148, 3.31], [0.12, 3.34], [0.127, 3.3], [0.135, 3.21], [0.127, 3.14], [0.134, 3.13],
  [0.142, 3.05], [0.15, 3.07], [0.12, 3.07], [0.126, 3.02], [0.136, 3.03], [0.145, 2.96], [0.152, 2.92], [0.122, 2.98], [0.133, 2.93], [0.14, 2.88],
  [0.155, 2.85], [0.147, 2.82], [0.129, 2.84], [0.12, 2.84], [0.137, 2.77], [0.156, 2.76], [0.125, 2.77], [0.148, 2.71], [0.118, 2.72], [0.13, 2.69],
  [0.138, 2.66], [0.122, 2.64], [0.151, 2.6], [0.143, 2.58], [0.135, 2.6], [0.12, 2.54], [0.129, 2.53], [0.152, 2.48], [0.138, 2.49], [0.118, 2.49],
  [0.14, 2.43], [0.128, 2.42], [0.16, 2.44], [0.122, 2.41], [0.148, 2.37], [0.133, 2.36], [0.12, 2.33], [0.127, 2.31], [0.154, 2.3], [0.14, 2.28],
  [0.118, 2.27], [0.129, 2.25], [0.139, 2.2], [0.122, 2.19], [0.117, 2.1], [0.129, 2.08], [0.127, 2.12], [0.136, 2.05], [0.118, 1.99], [0.131, 1.96],
  [0.119, 1.86], [0.135, 1.87], [0.128, 1.78], [0.116, 1.7], [0.123, 1.68], [0.109, 1.57], [0.132, 1.55], [0.114, 1.46], [0.125, 1.62], [0.129, 1.52]
];
// gene call-outs are layout, in page pixels
const brownGenes = [
  ['EMILIN1', 287, 1423], ['NFE2', 250, 1448], ['C17orf99', 297, 1448], ['NPAS4', 209, 1467], ['SLC17A9', 234, 1487], ['PPME1', 287, 1486],
  ['OXER1', 187, 1497], ['POLD4', 187, 1518], ['PTPN6', 236, 1516], ['AOAH', 195, 1538], ['ZFP36', 200, 1570], ['FERMT3', 167, 1590],
  ['TBXAS1', 154, 1611], ['KLHL6', 190, 1632], ['BCL2L13', 192, 1651], ['INPP5D', 190, 1671], ['PROSC', 208, 1699]
];
const brownLeaders = [
  [270, 1428, 268, 1468], [255, 1454, 263, 1468], [276, 1454, 275, 1477], [263, 1487, 281, 1498], [209, 1496, 263, 1503], [208, 1518, 225, 1529],
  [234, 1522, 228, 1550], [220, 1568, 218, 1560], [218, 1560, 221, 1556], [192, 1592, 203, 1601], [178, 1612, 196, 1611], [206, 1626, 217, 1606], [218, 1653, 228, 1663]
];
const magentaGenes = [
  ['TGFB3', 355, 1404], ['ELF3', 402, 1423], ['FGF6', 378, 1455], ['GRK7', 444, 1388], ['KRT82', 482, 1400], ['DMRTA2', 530, 1402], ['OMP', 449, 1423],
  ['PLXNA1', 509, 1422], ['ISLR', 485, 1444], ['KRTAP12–2', 540, 1444], ['GRP', 527, 1464], ['KRTAP10–12', 543, 1486], ['ASTN1', 568, 1506], ['RASEF', 524, 1517],
  ['DACT2', 569, 1537], ['SRRM4', 521, 1551], ['ANK2', 517, 1581], ['KCNQ2', 521, 1610], ['PEX5L', 515, 1662], ['ASCL1', 483, 1690]
];
const magentaLeaders = [
  [380, 1407, 433, 1439], [412, 1427, 424, 1440], [395, 1448, 425, 1441], [435, 1393, 425, 1410], [462, 1403, 440, 1438], [504, 1403, 457, 1439],
  [485, 1423, 461, 1440], [470, 1443, 443, 1441], [506, 1445, 493, 1463], [505, 1485, 495, 1478], [548, 1505, 502, 1502], [547, 1537, 492, 1540],
  [502, 1580, 500, 1568], [497, 1657, 494, 1643], [460, 1691, 446, 1678]
];
const grayGenes = [['S100A16', 391, 1383], ['C7orf49', 344, 1434], ['GATSL3', 345, 1475], ['MAPKBP1', 352, 1504]];
const grayLeaders = [[320, 1435, 312, 1467], [413, 1390, 413, 1408]];

const FONT = "'Liberation Sans', Arimo, Helvetica, Arial, sans-serif";
const INK = '#111';
const NAME_SIZE = 18.8;
const BROWN = '#a52a2a';
const BROWN_FILL = '#e5bfbf';
const PINK = '#ff00ff';
const PINK_FILL = '#ffb0ff';
const NAVY = '#00008b';
const NAVY_FILL = '#4b4dac';

const LG = echarts.graphic.LinearGradient;
const grids = [], xAxes = [], yAxes = [], series = [], elements = [];

function dash(v, d) { return (v < 0 ? '–' : '') + Math.abs(v).toFixed(d); }

function addPanel(c) {
  const i = grids.length;
  grids.push({ left: c.left, top: c.top, width: c.right - c.left, height: c.bottom - c.top, show: true, borderColor: c.frame || '#777', borderWidth: c.frameWidth === undefined ? 1.5 : c.frameWidth, backgroundColor: 'transparent', z: 5 });
  const label = (vals, fmt, margin, extra) => Object.assign({ show: !!vals, customValues: vals || [], formatter: fmt, margin: margin, fontFamily: FONT, fontSize: 18.5, color: INK, hideOverlap: false, showMinLabel: true, showMaxLabel: true }, extra || {});
  xAxes.push({
    gridIndex: i, type: 'value', min: c.xmin, max: c.xmax, splitLine: { show: false }, axisLine: { show: false, onZero: false },
    axisTick: { show: !!c.xTicks, customValues: c.xTicks || [], length: 7, lineStyle: { color: c.tickColor || '#666', width: 1.5 } },
    axisLabel: label(c.xLabels, c.xFmt, c.xMargin || 12, c.xLabelExtra),
    name: c.xName || '', nameLocation: 'middle', nameGap: c.xNameGap || 30,
    nameTextStyle: { fontFamily: FONT, fontSize: NAME_SIZE, color: INK }
  });
  yAxes.push({
    gridIndex: i, type: 'value', min: c.ymin, max: c.ymax, inverse: !!c.yInverse, splitLine: { show: false }, axisLine: { show: false, onZero: false },
    axisTick: { show: !!c.yTicks, customValues: c.yTicks || [], length: 8, lineStyle: { color: c.tickColor || '#666', width: 1.5 } },
    axisLabel: label(c.yTicks, c.yFmt, c.yMargin || 20),
    name: c.yName || '', nameLocation: 'middle', nameGap: c.yNameGap || 60,
    nameTextStyle: {
      fontFamily: FONT, fontSize: c.yNameSize || NAME_SIZE, color: INK,
      rich: {
        i: { fontFamily: FONT, fontSize: NAME_SIZE, color: INK, fontStyle: 'italic' },
        s: { fontFamily: FONT, fontSize: 9, color: INK, verticalAlign: 'bottom', padding: [6, 0, 0, 0] }
      }
    }
  });
  return i;
}

function custom(g, data, renderItem, z) {
  series.push({ type: 'custom', coordinateSystem: 'cartesian2d', xAxisIndex: g, yAxisIndex: g, data: data, renderItem: renderItem, silent: true, animation: false, clip: true, z: z || 2 });
}
function dots(g, data, color, size, z) {
  series.push({ type: 'scatter', xAxisIndex: g, yAxisIndex: g, data: data, symbolSize: size, itemStyle: { color: color, opacity: 1 }, silent: true, animation: false, z: z || 3 });
}
function vline(g, data, style, z) {
  series.push({ type: 'line', xAxisIndex: g, yAxisIndex: g, data: data, symbol: 'none', lineStyle: style, silent: true, animation: false, z: z || 4 });
}
function polygon(g, pts, style, z) {
  custom(g, [[0, 0]], function (p, api) {
    return { type: 'polygon', shape: { points: pts.map(function (q) { return api.coord(q); }) }, style: style(api) };
  }, z);
}

function drawBoxes(g, boxes, half, stroke, fill) {
  // each box: [centre, low, q1, median, q3, high]
  custom(g, boxes, function (p, api) {
    const b = boxes[p.dataIndex];
    const x = b[0];
    const c = api.coord.bind(api);
    const seg = function (x1, y1, x2, y2, w) {
      const a = c([x1, y1]), e = c([x2, y2]);
      return { type: 'line', shape: { x1: a[0], y1: a[1], x2: e[0], y2: e[1] }, style: { stroke: stroke, lineWidth: w, fill: null } };
    };
    const tl = c([x - half, b[4]]), br = c([x + half, b[2]]);
    return {
      type: 'group',
      children: [
        seg(x, b[1], x, b[2], 2), seg(x, b[4], x, b[5], 2),
        { type: 'rect', shape: { x: tl[0], y: tl[1], width: br[0] - tl[0], height: br[1] - tl[1] }, style: { fill: fill, stroke: stroke, lineWidth: 2 } },
        seg(x - half, b[3], x + half, b[3], 3.5)
      ]
    };
  });
}

function text(str, x, y, o) {
  o = o || {};
  const size = o.size || NAME_SIZE;
  elements.push({
    type: 'text', silent: true, z: 100, x: x, y: y,
    style: {
      text: str, x: 0, y: 0, fill: o.color || INK, align: o.align || 'center', verticalAlign: 'middle',
      fontFamily: FONT, fontSize: size, fontWeight: o.weight || 'normal', fontStyle: o.italic ? 'italic' : 'normal',
      rich: { i: { fontFamily: FONT, fontSize: size, fontStyle: 'italic', fill: o.color || INK } }
    }
  });
}
function segment(s, color, w) {
  elements.push({ type: 'line', silent: true, z: 99, shape: { x1: s[0], y1: s[1], x2: s[2], y2: s[3] }, style: { stroke: color, lineWidth: w } });
}
function headShape(points, color) {
  elements.push({ type: 'polygon', silent: true, z: 99, shape: { points: points }, style: { fill: color } });
}

// colour ramp shared by heat map and colour bar
function rampColor(v) {
  const s = entropyStops, c = entropyColors;
  if (v <= s[0]) return c[0];
  for (let i = 1; i < s.length; i++) {
    if (v <= s[i]) return echarts.color.lerp((v - s[i - 1]) / (s[i] - s[i - 1]), [c[i - 1], c[i]]);
  }
  return c[c.length - 1];
}
function levelToEntropy(d) { return 0.9835 + d * 0.003; }

// ---------- panel a ----------
const heatXmin = -9.6, heatXmax = 9.6;
const pa = addPanel({
  left: 27.6, right: 612.7, top: 65.7, bottom: 1073.3, xmin: heatXmin, xmax: heatXmax, ymin: 0, ymax: heatRows.length, yInverse: true, frame: '#444',
  xLabels: [-7.5, -5, -2.5, 0, 2.5, 5, 7.5], xFmt: function (v) { return v === 0 ? '0' : dash(v, 1); }, xMargin: 12,
  xName: 'Position relative to TSS (kb)', xNameGap: 51,
  yName: 'Genes sorted by expression in PBMC ({i|n} = 18,131)', yNameGap: 9
});
yAxes[pa].axisLabel.show = false;
xAxes[pa].axisLabel.fontSize = 19;
custom(pa, heatRows.map(function (r, i) { return [0, i]; }), function (p, api) {
  const i = p.dataIndex, row = heatRows[i];
  const a = api.coord([heatXmin, i]), b = api.coord([heatXmax, i + 1]);
  const stops = [];
  for (let k = 0; k < heatColumns.length && k < row.length; k++) {
    stops.push({ offset: (heatColumns[k] - heatXmin) / (heatXmax - heatXmin), color: rampColor(levelToEntropy(parseInt(row[k], 16))) });
  }
  return { type: 'rect', shape: { x: a[0], y: a[1], width: b[0] - a[0], height: b[1] - a[1] + 0.6 }, style: { fill: new LG(0, 0, 1, 0, stops) } };
}, 1);
custom(pa, heatStreaks.map(function (s) { return [s[1], s[0]]; }), function (p, api) {
  const s = heatStreaks[p.dataIndex];
  const row = s[0] * heatRows.length / heatStreakRowBase;
  const a = api.coord([s[1], row]), b = api.coord([s[2], row]);
  const col = rampColor(levelToEntropy(s[3]));
  const soft = echarts.color.modifyAlpha(col, 0.7);
  return {
    type: 'rect', shape: { x: a[0], y: a[1], width: b[0] - a[0], height: 1.7 },
    style: { fill: new LG(0, 0, 1, 0, [
      { offset: 0, color: echarts.color.modifyAlpha(col, 0) }, { offset: 0.2, color: soft },
      { offset: 0.8, color: soft }, { offset: 1, color: echarts.color.modifyAlpha(col, 0) }
    ]) }
  };
}, 2);
vline(pa, [[0, 0], [0, heatRows.length]], { color: '#000', width: 2, type: [9, 8] }, 4);

const pg = addPanel({
  left: 616.6, right: 706.7, top: 65.7, bottom: 1073.3, xmin: -8.9, xmax: 15.12, ymin: 0, ymax: 1, yInverse: true, frame: '#555',
  xTicks: gepTicks, xLabels: gepTicks, xFmt: function (v) { return dash(v, 0); }, xMargin: 18, tickColor: '#333',
  xLabelExtra: { rotate: 90, fontSize: 18 }
});
yAxes[pg].axisLabel.show = false;
polygon(pg, [[0, 0]].concat(gepValue.map(function (v, i) { return [v, gepRank[i]]; })).concat([[0, 1]]), function () {
  return {
    fill: new LG(0, 0, 0, 1, [
      { offset: 0, color: '#ff0000' }, { offset: 0.1, color: '#ee0000' }, { offset: 0.33, color: '#5a0000' }, { offset: 0.55, color: '#100000' },
      { offset: 0.68, color: '#000000' }, { offset: 0.75, color: '#004000' }, { offset: 0.85, color: '#00a800' }, { offset: 1, color: '#00ff00' }
    ])
  };
}, 2);

// colour bar
const pb0 = addPanel({
  left: 361, right: 722, top: 1177.7, bottom: 1196.7, xmin: 0.9596, xmax: 1.0403, ymin: 0, ymax: 1, frame: 'transparent', frameWidth: 0,
  xLabels: entropyTicks, xFmt: function (v) { return v.toFixed(2); }, xMargin: 12
});
yAxes[pb0].axisLabel.show = false;
custom(pb0, [[0.9596, 0]], function (p, api) {
  const a = api.coord([0.9596, 1]), b = api.coord([1.0403, 0]);
  const span = 1.0403 - 0.9596;
  const stops = entropyStops.map(function (v, i) { return { offset: Math.max(0, Math.min(1, (v - 0.9596) / span)), color: entropyColors[i] }; });
  return { type: 'rect', shape: { x: a[0], y: a[1], width: b[0] - a[0], height: b[1] - a[1] }, style: { fill: new LG(0, 0, 1, 0, stops) } };
}, 1);
custom(pb0, entropyTicks.map(function (v) { return [v, 0]; }), function (p, api) {
  const a = api.coord([entropyTicks[p.dataIndex], 0]), b = api.coord([entropyTicks[p.dataIndex], 1]);
  return { type: 'line', shape: { x1: a[0], y1: a[1], x2: b[0], y2: b[1] }, style: { stroke: '#fff', lineWidth: 1.2, fill: null } };
}, 2);

text('TSS', 284, 37, { size: 27 });
text('GEP', 665.5, 54, { size: 18.8 });
text('Normalized Shannon entropy', 541, 1160);
elements.push({ type: 'polyline', silent: true, z: 99, shape: { points: [[320, 72], [320, 8], [394, 8]] }, style: { stroke: '#000', lineWidth: 2.5, fill: null } });
headShape([[402, 8], [390, 1], [394, 8], [390, 15]], '#000');

// ---------- panel b ----------
const LABEL_NUDGE = 60; // rotated labels sit a little right of their tick
const pv = addPanel({
  left: 886.4, right: 1383.8, top: 95.9, bottom: 504.8, xmin: -5288, xmax: 6468, ymin: 0.9437, ymax: 1.0813,
  xTicks: violinTicks, xLabels: violinTicks.map(function (v) { return v + LABEL_NUDGE; }),
  xFmt: function (v) { const t = v - LABEL_NUDGE; return (t < 0 ? '–' : '') + Math.abs(t).toLocaleString('en-US'); },
  xMargin: 22, xLabelExtra: { rotate: 45, fontSize: 18.5 },
  yTicks: violinYTicks, yFmt: function (v) { return v.toFixed(3); }, yMargin: 19,
  yName: 'Normalized entropy', yNameGap: 89, yNameSize: 18.4, xName: 'Distance to TSS', xNameGap: 81
});
function violinPoints(i, api) {
  const pts = [[violinX[i], violinBottom[i]]];
  for (let k = violinLevels.length - 1; k >= 0; k--) {
    const lv = violinLevels[k];
    if (lv > violinBottom[i] + 0.0005 && lv < violinTop[i] - 0.0005) pts.push([violinX[i] + violinWidths[i][k] * violinWidthUnit, lv]);
  }
  pts.push([violinX[i], violinTop[i]]);
  const px = pts.map(function (q) { return api.coord(q); });
  const base = px[0][0];
  const out = [];
  for (let s = 0; s < px.length - 1; s++) {
    const p0 = px[Math.max(0, s - 1)], p1 = px[s], p2 = px[s + 1], p3 = px[Math.min(px.length - 1, s + 2)];
    for (let t = 0; t < 6; t++) {
      const u = t / 6, u2 = u * u, u3 = u2 * u;
      const xv = 0.5 * (2 * p1[0] + (p2[0] - p0[0]) * u + (2 * p0[0] - 5 * p1[0] + 4 * p2[0] - p3[0]) * u2 + (3 * p1[0] - p0[0] - 3 * p2[0] + p3[0]) * u3);
      const yv = 0.5 * (2 * p1[1] + (p2[1] - p0[1]) * u + (2 * p0[1] - 5 * p1[1] + 4 * p2[1] - p3[1]) * u2 + (3 * p1[1] - p0[1] - 3 * p2[1] + p3[1]) * u3);
      out.push([Math.max(base, xv), yv]);
    }
  }
  out.push(px[px.length - 1]);
  return out;
}
custom(pv, violinX.map(function (v) { return [v, 1]; }), function (p, api) {
  const y0 = api.coord([0, violinFillValues[0]])[1], y1 = api.coord([0, violinFillValues[violinFillValues.length - 1]])[1];
  const span = violinFillValues[0] - violinFillValues[violinFillValues.length - 1];
  const stops = violinFillValues.map(function (v, i) { return { offset: (violinFillValues[0] - v) / span, color: violinFillColors[i] }; });
  return { type: 'polygon', shape: { points: violinPoints(p.dataIndex, api) }, style: { fill: new LG(0, y0, 0, y1, stops, true) } };
}, 2);
custom(pv, violinX.map(function (v) { return [v, 1]; }), function (p, api) {
  return { type: 'polyline', shape: { points: violinPoints(p.dataIndex, api) }, style: { stroke: '#000', lineWidth: 1.2, fill: null } };
}, 3);
vline(pv, violinStub, { color: '#555', width: 1 }, 3);

// ---------- panel c ----------
const pc = addPanel({
  left: 1547.2, right: 2049, top: 42.2, bottom: 552.8, xmin: 0.402, xmax: 11.6, ymin: 0.2163, ymax: 0.649,
  xTicks: regionNames.map(function (n, i) { return i + 1; }), xLabels: regionNames.map(function (n, i) { return i + 1; }),
  xFmt: function (v) { return v === 1 ? '{t|TSS}' : '{o|' + regionNames[v - 1] + '}'; }, xMargin: 18,
  xLabelExtra: { rich: { t: { fontFamily: FONT, fontSize: 18.5, color: INK }, o: { fontFamily: FONT, fontSize: 18.5, color: INK, padding: [0, 0, 0, 9] } } },
  yTicks: [0.3, 0.4, 0.5, 0.6], yFmt: function (v) { return v.toFixed(1); },
  yName: 'Correlation between PFE and expression ({i|r})', yNameGap: 70
});
drawBoxes(pc, regionNames.map(function (n, i) { return [i + 1, regionLow[i], regionQ1[i], regionMedian[i], regionQ3[i], regionHigh[i]]; }), 0.37, NAVY, NAVY_FILL);
dots(pc, regionPoints, NAVY, 5);
segment([1547, 605, 2058, 605], '#000', 4);
[1613.8, 1704.5, 1794.8, 1886.6, 1976].forEach(function (cx) {
  elements.push({ type: 'rect', silent: true, z: 100, shape: { x: cx - 10.5, y: 595, width: 21, height: 20 }, style: { fill: '#662d91' } });
});

// ---------- panels d, e, g, h ----------
function boxPanel(c) {
  const g = addPanel(Object.assign({ xTicks: [1, 2] }, c));
  drawBoxes(g, [[1].concat(c.box1)], 0.375, BROWN, BROWN_FILL);
  drawBoxes(g, [[2].concat(c.box2)], 0.375, PINK, PINK_FILL);
  dots(g, c.pts1.map(function (q) { return [1 + q[0], q[1]]; }), BROWN, 6);
  dots(g, c.pts2.map(function (q) { return [2 + q[0], q[1]]; }), PINK, 6);
  return g;
}

boxPanel({
  left: 888.6, right: 1394.3, top: 701.4, bottom: 1233.7, xmin: 0.2, xmax: 2.6, ymin: -0.1418, ymax: 0.1695,
  yTicks: [-0.1, 0, 0.1], yFmt: function (v) { return v === 0 ? '0' : dash(v, 1); }, yMargin: 21,
  yName: 'Normalized PFE in cfDNA', yNameGap: 80, box1: dHealthyBox, box2: dCasesBox, pts1: dHealthyPoints, pts2: dCasesPoints
});
boxPanel({
  left: 1541.3, right: 2047, top: 707.6, bottom: 1239.4, xmin: 0.2, xmax: 2.598, ymin: -0.2203, ymax: 0.2199,
  yTicks: [-0.2, -0.1, 0, 0.1, 0.2], yFmt: function (v) { return v === 0 ? '0' : dash(v, 1); },
  yName: 'Normalized PFE in cfDNA', yNameGap: 79, box1: eHealthyBox, box2: eCasesBox, pts1: eHealthyPoints, pts2: eCasesPoints
});
boxPanel({
  left: 870.2, right: 1398.8, top: 1395.5, bottom: 1928.3, xmin: 0.2, xmax: 2.598, ymin: 0.33, ymax: 70.47,
  yTicks: [20, 40, 60], yFmt: function (v) { return String(v); }, yMargin: 19,
  yName: 'Mean TPM (RNA-seq)', yNameGap: 65, box1: gHealthyBox, box2: gTumorBox, pts1: gHealthyPoints, pts2: gTumorPoints
});
boxPanel({
  left: 1535.8, right: 2049.4, top: 1395.5, bottom: 1928.3, xmin: 0.2, xmax: 2.6, ymin: 85.83, ymax: 179.26,
  yTicks: [100, 120, 140, 160], yFmt: function (v) { return String(v); },
  yName: 'Mean TPM (RNA-seq)', yNameGap: 74, box1: hHealthyBox, box2: hTumorBox, pts1: hHealthyPoints, pts2: hTumorPoints
});

text('Genes high in SCLC tumors ({i|n} = 118)', 1141, 686.7);
text('Genes low in SCLC tumors ({i|n} = 20)', 1794, 689.6);
text('Genes high in SCLC plasma cfDNA ({i|n} = 620)', 1134.3, 1380);
text('Genes low in SCLC plasma cfDNA ({i|n} = 596)', 1792.8, 1380);
text('{i|P} = 3.94 × 10', 897.6, 722, { size: 22, align: 'left' });
text('–5', 1033, 711, { size: 12, align: 'left' });
text('{i|P} = 0.013', 1553.5, 729, { size: 22, align: 'left' });
text('{i|P} = 8.6 × 10', 882.9, 1422.4, { size: 22, align: 'left' });
text('–9', 1005.7, 1411, { size: 12, align: 'left' });
text('{i|P} = 2.8 × 10', 1552, 1422.4, { size: 22, align: 'left' });
text('–8', 1674.5, 1411, { size: 12, align: 'left' });

[
  ['Healthy control', 1067.8, 1266], ['cfDNA ({i|n} = 28)', 1067.8, 1288.8], ['SCLC cases', 1268, 1266], ['cfDNA ({i|n} = 11)', 1270, 1288.8],
  ['Healthy control', 1708.4, 1266], ['cfDNA ({i|n} = 28)', 1708.4, 1288.8], ['SCLC cases', 1928, 1266], ['cfDNA ({i|n} = 11)', 1928, 1288.8],
  ['Healthy PBMC', 1055.5, 1956.5], ['({i|n} = 13)', 1055.5, 1978.8], ['SCLC tumors', 1273.9, 1956.5], ['({i|n} = 81)', 1273.9, 1978.8],
  ['Healthy PBMC', 1711, 1956.5], ['({i|n} = 13)', 1711, 1978.8], ['SCLC tumors', 1921.7, 1956.5], ['({i|n} = 81)', 1921.7, 1978.8]
].forEach(function (l) { text(l[0], l[1], l[2]); });

// ---------- panel f ----------
const pf = addPanel({
  left: 104.5, right: 624.5, top: 1376.7, bottom: 1892.7, xmin: -0.4395, xmax: 0.4389, ymin: -0.2, ymax: 4.203, frame: '#333', frameWidth: 2, tickColor: '#333',
  xTicks: [-0.4, -0.2, 0, 0.2, 0.4], xLabels: [-0.4, -0.2, 0, 0.2, 0.4], xFmt: function (v) { return v === 0 ? '0' : dash(v, 1); }, xMargin: 17,
  yTicks: [0, 1, 2, 3, 4], yFmt: function (v) { return String(v); }, yMargin: 18,
  xName: 'Delta PFE', xNameGap: 52,
  yName: '{i|Q} (–log{s|10})', yNameGap: 56
});
const grayPoly = function () { return { fill: '#d2d2d2', stroke: '#d2d2d2', lineWidth: 3, lineJoin: 'round' }; };
polygon(pf, volcanoGrayLeft, grayPoly, 1);
polygon(pf, volcanoGrayRight, grayPoly, 1);
dots(pf, volcanoGrayDots, '#d2d2d2', 5.5, 1);
polygon(pf, brownDense, function () { return { fill: BROWN, stroke: BROWN, lineWidth: 3, lineJoin: 'round' }; }, 2);
polygon(pf, magentaDense, function () { return { fill: PINK, stroke: PINK, lineWidth: 3, lineJoin: 'round' }; }, 2);
dots(pf, brownPoints, BROWN, 5.5, 3);
dots(pf, magentaPoints, PINK, 5.5, 3);
const dotted = { color: '#111', width: 1.5, type: [2, 5] };
vline(pf, [[-deltaCut, -0.2], [-deltaCut, 4.203]], dotted, 4);
vline(pf, [[deltaCut, -0.2], [deltaCut, 4.203]], dotted, 4);
vline(pf, [[-0.4395, qCut], [0.4389, qCut]], dotted, 4);

brownGenes.forEach(function (g) { text(g[0], g[1], g[2], { size: 12.5, italic: true, color: BROWN }); });
magentaGenes.forEach(function (g) { text(g[0], g[1], g[2], { size: 12.5, italic: true, color: PINK }); });
grayGenes.forEach(function (g) { text(g[0], g[1], g[2], { size: 12.5, italic: true, color: '#e4e4e4' }); });
brownLeaders.forEach(function (s) { segment(s, BROWN, 1.2); });
magentaLeaders.forEach(function (s) { segment(s, PINK, 1.2); });
grayLeaders.forEach(function (s) { segment(s, '#e4e4e4', 1.2); });

segment([142, 1992.7, 564, 1992.7], '#000', 2.5);
headShape([[136.6, 1992.7], [149, 1985.5], [146, 1992.7], [149, 1999.9]], '#000');
headShape([[569, 1992.7], [556.6, 1985.5], [559.6, 1992.7], [556.6, 1999.9]], '#000');
text('Healthy cfDNA', 117, 2013);
text('SCLC cfDNA', 585.4, 2013);

// panel letters
[['a', 9, 19], ['b', 786, 19], ['c', 1452, 19], ['d', 786, 675], ['e', 1452, 675], ['f', 7, 1363], ['g', 786, 1366], ['h', 1452, 1365]].forEach(function (l) {
  text(l[0], l[1], l[2], { size: 30, weight: 'bold', color: '#000' });
});

const chart = echarts.init(document.getElementById('main'), null, { renderer: 'canvas' });
chart.setOption({
  animation: false,
  backgroundColor: '#fff',
  textStyle: { fontFamily: FONT },
  tooltip: { show: false },
  grid: grids,
  xAxis: xAxes,
  yAxis: yAxes,
  series: series,
  graphic: { elements: elements }
});
</script>
</body>
</html>
